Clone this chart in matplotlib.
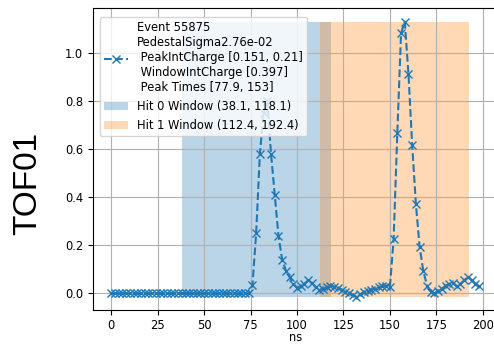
import numpy as np
import matplotlib
matplotlib.use("Agg")
from matplotlib import pyplot as plt

# waveform samples, 2 ns apart
times = np.arange(0, 200, 2)
amps = [0.0] * 38 + [
    0.035, 0.25, 0.58, 0.75, 0.80, 0.58, 0.41, 0.24, 0.14, 0.095,
    0.068, 0.04, 0.024, 0.03, 0.04, 0.055, 0.045, 0.025, 0.013, 0.02,
    0.026, 0.033, 0.028, 0.022, 0.015, 0.005, 0.0, -0.008, -0.013, -0.003,
    0.005, 0.012, 0.016, 0.02, 0.025, 0.029, 0.03, 0.026, 0.225, 0.668,
    1.08, 1.128, 0.91, 0.615, 0.371, 0.194, 0.092, 0.033, 0.005, 0.0,
    0.012, 0.02, 0.033, 0.04, 0.043, 0.029, 0.04, 0.055, 0.068, 0.055,
    0.04, 0.029,
]
windows = [(38.1, 118.1), (112.4, 192.4)]
info = ("Event 55875\nPedestalSigma2.76e-02\n PeakIntCharge [0.151, 0.21]\n"
        " WindowIntCharge [0.397]\n Peak Times [77.9, 153]")

plt.rcParams['font.size'] = 8.3
fig = plt.figure(figsize=(4.94, 3.46), dpi=100)
ax = fig.add_axes([0.188, 0.103, 0.819, 0.874])

ax.plot(times, amps, "x--", color="C0", label=info)
lo, hi = min(amps), max(amps)
for i, (a, b) in enumerate(windows):
    ax.fill_between([a, b], lo, hi, color="C%d" % i, alpha=0.3, linewidth=0,
                    label="Hit %d Window (%.1f, %.1f)" % (i, a, b))

ax.grid(True)
ax.tick_params(axis="x", pad=2.5)
ax.set_xlabel("ns")
ax.xaxis.set_label_coords(0.5, -0.069)
ax.legend(loc="upper left", bbox_to_anchor=(0.003, 0.99))
fig.text(0.057, 0.47, "TOF01", rotation=90, fontsize=24,
         family="Liberation Sans", ha="center", va="center")

plt.savefig("out.png", dpi=100)
